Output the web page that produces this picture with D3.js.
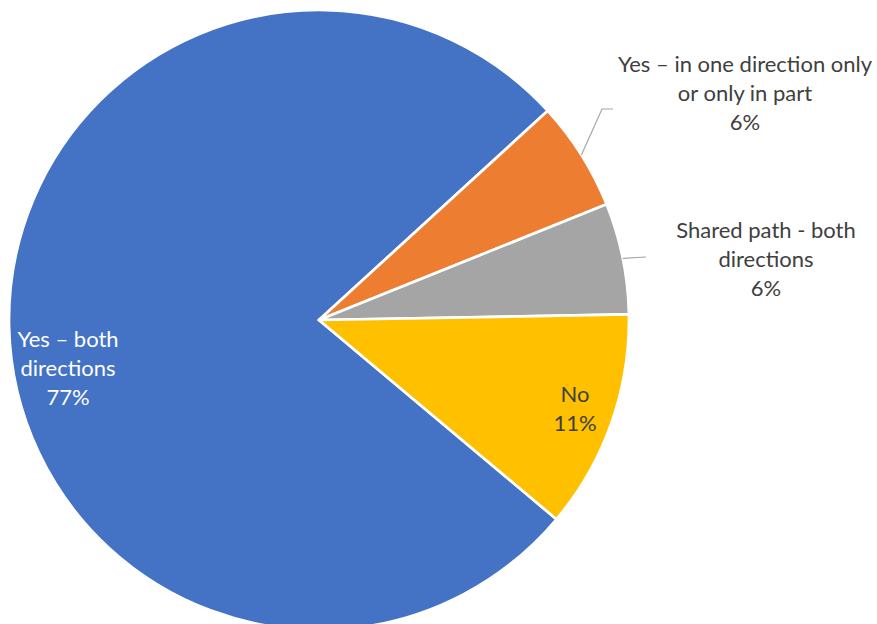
<!DOCTYPE html>
<html><head><meta charset="utf-8">
<script src="https://cdn.jsdelivr.net/npm/d3@7"></script>
<style>body{margin:0;background:#fff}svg{display:block}</style>
</head><body>
<svg id="chart" width="877" height="624"></svg>
<script>
// ---- data ----
const categories = ["Yes – both directions", "Yes – in one direction only or only in part", "Shared path - both directions", "No"];
const values = [77.1, 5.7, 5.8, 11.4];
const labelLines = [["Yes – both", "directions"], ["Yes – in one direction only", "or only in part"], ["Shared path - both", "directions"], ["No"]];
const colors = ["#4472C4", "#ED7D31", "#A5A5A5", "#FFC000"];
const labelColors = ["#FFFFFF", "#404040", "#404040", "#404040"];

// ---- layout ----
const W = 877, H = 624;
const cx = 319, cy = 320, R = 310;
const startDeg = 130;
const fontSize = 22, lineH = 29;
// label anchor (centre x, first baseline) relative to pie centre
const labelOffsets = [[-251, 27], [426, -248], [447, -82], [256, 82]];
// leader line path points relative to pie centre (null = no leader)
const leaderPts = [null, [[283, -211], [294, -211]], [[327, -63]], null];

const svg = d3.select("#chart");
const g = svg.append("g").attr("transform", `translate(${cx},${cy})`);
const total = d3.sum(values);
const pct = d3.format(".0%");

const pie = d3.pie().sort(null).value(d => d)
  .startAngle(startDeg * Math.PI / 180)
  .endAngle((startDeg + 360) * Math.PI / 180);
const arcs = pie(values);
const arc = d3.arc().innerRadius(0).outerRadius(R);
const edgeArc = d3.arc().innerRadius(R).outerRadius(R);

g.selectAll("path.slice").data(arcs).join("path")
  .attr("class", "slice")
  .attr("d", arc)
  .attr("fill", (d, i) => colors[i])
  .attr("stroke", "#fff")
  .attr("stroke-width", 2.7)
  .attr("stroke-linejoin", "round");

// leader lines
arcs.forEach((a, i) => {
  if (!leaderPts[i]) return;
  const p0 = edgeArc.centroid(a);
  const pts = [p0].concat(leaderPts[i]);
  g.append("path")
    .attr("d", d3.line()(pts))
    .attr("fill", "none")
    .attr("stroke", "#A6A6A6")
    .attr("stroke-width", 1.2);
});

// labels
arcs.forEach((a, i) => {
  const [ox, oy] = labelOffsets[i];
  const lines = labelLines[i].concat([pct(values[i] / total)]);
  const t = g.append("text")
    .attr("text-anchor", "middle")
    .attr("font-family", "Lato, 'Open Sans', sans-serif")
    .attr("font-size", fontSize)
    .attr("fill", labelColors[i]);
  lines.forEach((ln, k) => {
    t.append("tspan").attr("x", ox).attr("y", oy + k * lineH).text(ln);
  });
});
</script>
</body></html>
